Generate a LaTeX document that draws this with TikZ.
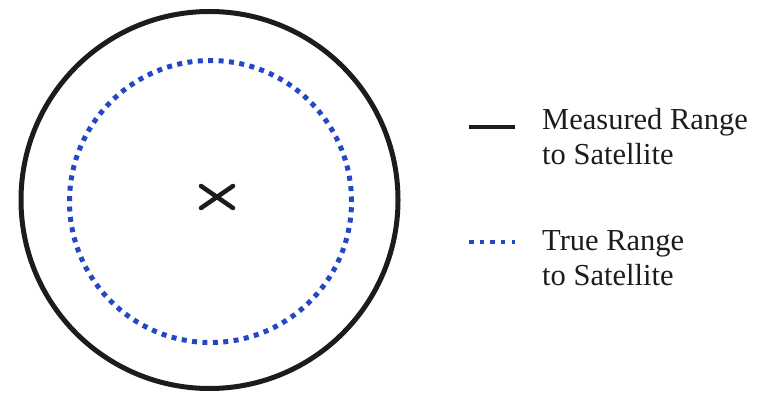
\documentclass[tikz,border=0pt]{standalone}
\usepackage{fontspec}
\setmainfont{Liberation Serif}
\usepackage{tikz}
\usetikzlibrary{positioning, calc}
\definecolor{inkblack}{HTML}{1C1C1E}
\definecolor{satblue}{HTML}{2447C6}

\begin{document}
\begin{tikzpicture}[
  x=1pt, y=-1pt,
  measured/.style={draw=inkblack, line width=5pt},
  truerange/.style={draw=satblue, line width=5pt, dash pattern=on 5pt off 5.42pt},
  legtext/.style={anchor=base west, align=left, inner sep=0pt, text=inkblack,
                  font=\fontsize{30.5}{35}\selectfont},
]
  \useasboundingbox (0,0) rectangle (767,395);
  % Range circles
  \node[circle, measured, minimum size=377pt, inner sep=0pt] (meas) at (209.5,200) {};
  \node[circle, truerange, minimum size=282pt, inner sep=0pt] (true) at (210.5,201.5) {};
  % Receiver position
  \coordinate (pos) at (217,197);
  \draw[inkblack, line width=4.5pt, line cap=round] ($(pos)+(-16,-11)$) -- ($(pos)+(16,11)$);
  \draw[inkblack, line width=4.5pt, line cap=round] ($(pos)+(-16,11)$) -- ($(pos)+(16,-11)$);

  % Legend
  \node[legtext] (measlbl) at (542,165) {Measured Range\\to Satellite};
  \node[legtext] (truelbl) at (542,285) {True Range\\to Satellite};
  \coordinate (measa) at (469,127);
  \coordinate (measb) at (515,127);
  \coordinate (truea) at (469,242);
  \coordinate (trueb) at (515,242);
  \draw[measured, line width=4.5pt] (measa) -- (measb);
  \draw[truerange, line width=4.5pt, dash pattern=on 4.5pt off 6.15pt] (truea) -- (trueb);
\end{tikzpicture}
\end{document}
